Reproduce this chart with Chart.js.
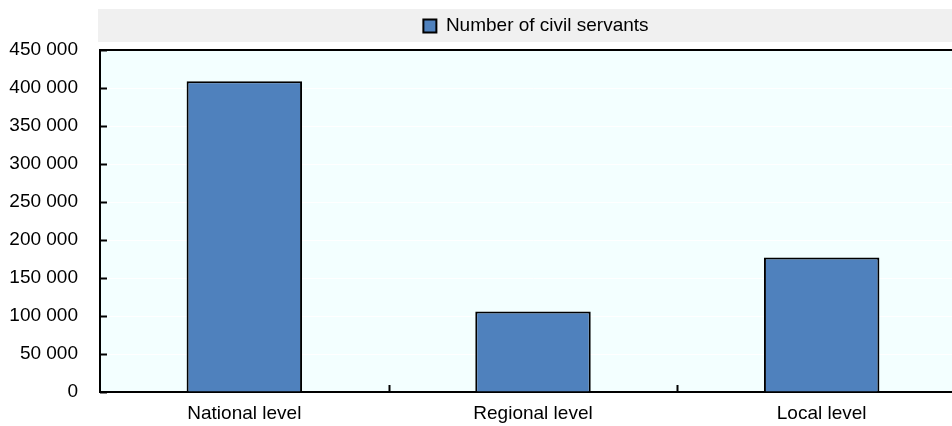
<!DOCTYPE html>
<html>
<head>
<meta charset="utf-8">
<script src="https://cdn.jsdelivr.net/npm/chart.js@4"></script>
<style>
  html, body { margin: 0; padding: 0; background: #fff; overflow: hidden; }
  #wrap { width: 966px; height: 426px; }
</style>
</head>
<body>
<div id="wrap"><canvas id="myChart" width="966" height="426"></canvas></div>
<script>
const levels = ["National level", "Regional level", "Local level"];
const civilServants = [409000, 106000, 177000];
const seriesName = "Number of civil servants";
const yMax = 450000;
const yStep = 50000;

const FONT = "'Liberation Sans', Arial, sans-serif";

// light panel behind the plot, grey band behind the legend,
// and the little inward tick marks on both axes
const framePlugin = {
  id: "frame",
  beforeLayout(chart) {
    // leave a small gap between the legend band and the plot
    const lg = chart.legend;
    if (lg && !lg._gapAdded) {
      const fit = lg.fit.bind(lg);
      lg.fit = function () {
        fit();
        this.height += 4.5;
      };
      lg._gapAdded = true;
    }
  },
  afterLayout(chart) {
    // centre the legend over the plot rather than the whole canvas
    const lg = chart.legend;
    const a = chart.chartArea;
    if (!lg) return;
    const shift = (a.left + a.right) / 2 + 3 - (lg.left + lg.right) / 2;
    lg.left += shift;
    lg.right += shift;
  },
  beforeDraw(chart) {
    const { ctx, chartArea: a } = chart;
    ctx.save();
    ctx.fillStyle = "#f0f0f0";
    ctx.fillRect(a.left - 2, 9, chart.width, 33);
    ctx.fillStyle = "#f3ffff";
    ctx.fillRect(a.left, a.top, a.right - a.left, a.bottom - a.top);
    ctx.restore();
  },
  afterDatasetsDraw(chart) {
    const { ctx, chartArea: a, scales } = chart;
    ctx.save();
    ctx.strokeStyle = "#000";
    ctx.lineWidth = 2;
    // top frame line
    ctx.beginPath();
    ctx.moveTo(a.left, a.top);
    ctx.lineTo(a.right, a.top);
    ctx.stroke();
    // y ticks pointing inward
    scales.y.ticks.forEach((t) => {
      const y = Math.round(scales.y.getPixelForValue(t.value)) + 0.5;
      ctx.beginPath();
      ctx.moveTo(a.left, y);
      ctx.lineTo(a.left + 7, y);
      ctx.stroke();
    });
    // x ticks between categories
    for (let i = 1; i < levels.length; i++) {
      const x = Math.round((scales.x.getPixelForValue(i - 1) + scales.x.getPixelForValue(i)) / 2) + 0.5;
      ctx.beginPath();
      ctx.moveTo(x, a.bottom);
      ctx.lineTo(x, a.bottom - 7);
      ctx.stroke();
    }
    ctx.restore();
  },
};

new Chart(document.getElementById("myChart"), {
  type: "bar",
  data: {
    labels: levels,
    datasets: [
      {
        label: seriesName,
        data: civilServants,
        backgroundColor: "#4f81bd",
        borderColor: "#000",
        borderWidth: 2,
        borderSkipped: "bottom",
        categoryPercentage: 1,
        barPercentage: 0.4,
      },
    ],
  },
  options: {
    responsive: false,
    animation: false,
    layout: { padding: { top: 9.5, left: 0, right: 0, bottom: 0 } },
    plugins: {
      tooltip: { enabled: false },
      legend: {
        display: true,
        position: "top",
        labels: {
          color: "#000",
          font: { family: FONT, size: 19 },
          boxWidth: 13,
          boxHeight: 13,
          padding: 7,
        },
      },
    },
    scales: {
      x: {
        grid: { display: false, drawTicks: false },
        border: { color: "#000", width: 2 },
        ticks: {
          color: "#000",
          font: { family: FONT, size: 19 },
          padding: 10,
        },
        afterFit(scale) {
          scale.height = 34;
        },
      },
      y: {
        min: 0,
        max: yMax,
        grid: { color: "#ffffff", lineWidth: 1, drawTicks: false },
        border: { color: "#000", width: 2 },
        ticks: {
          stepSize: yStep,
          color: "#000",
          font: { family: FONT, size: 19 },
          padding: 22,
          callback: (v) => v.toLocaleString("en-US").replace(/,/g, " "),
        },
        afterFit(scale) {
          scale.width = 100;
        },
      },
    },
  },
  plugins: [framePlugin],
});
</script>
</body>
</html>
